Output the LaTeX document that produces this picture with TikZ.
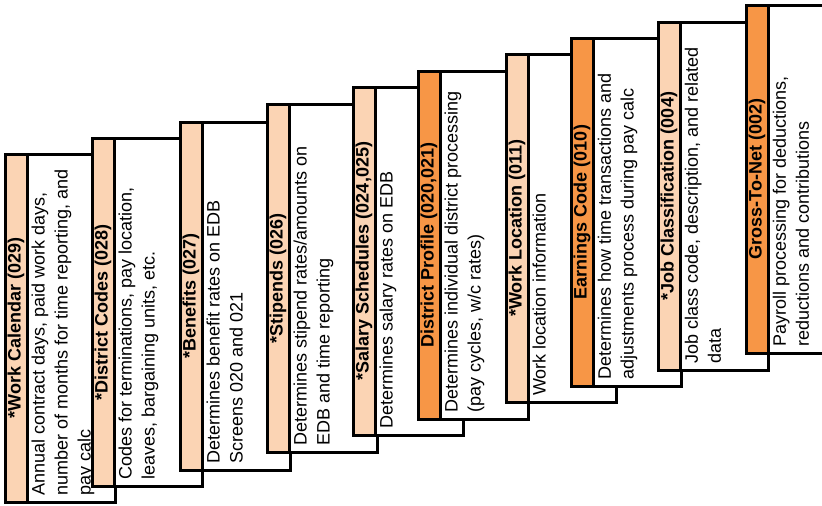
\documentclass[tikz,border=0pt]{standalone}
\usepackage{fontspec}
\setmainfont{Liberation Sans}
\definecolor{peach}{HTML}{FBD4B4}
\definecolor{tangerine}{HTML}{F79646}
\tikzset{
  card/.style={draw, line width=3pt, fill=white, anchor=north west,
    minimum width=110pt, minimum height=348pt, inner sep=0pt, outer sep=0pt},
  tab/.style={draw, line width=3pt, fill=peach, rotate=90, anchor=north east,
    minimum width=348pt, minimum height=22pt, inner sep=0pt, outer sep=0pt,
    font=\fontsize{18}{22}\selectfont\bfseries},
  hot/.style={tab, fill=tangerine},
  blurb/.style={rotate=90, anchor=north west, align=left, inner sep=0pt,
    font=\fontsize{18}{23}\selectfont}
}
\begin{document}
\begin{tikzpicture}[x=1pt, y=-1pt]
  \useasboundingbox (0,0) rectangle (822,506);
  \clip (0,0) rectangle (822,506);

  % 029
  \node[card] (wc) at (5,154) {};
  \node[tab] (wctab) at (5,154) {*Work Calendar (029)};
  \node[blurb] (wctext) at ([shift={(4.5,-6)}]wctab.south west)
    {Annual contract days, paid work days,\\number of months for time reporting, and\\pay calc};

  % 028
  \node[card] (dc) at (92,138) {};
  \node[tab] (dctab) at (92,138) {*District Codes (028)};
  \node[blurb] (dctext) at ([shift={(4.5,-6)}]dctab.south west)
    {Codes for terminations, pay location,\\leaves, bargaining units, etc.};

  % 027
  \node[card] (bn) at (180,122) {};
  \node[tab] (bntab) at (180,122) {*Benefits (027)};
  \node[blurb] (bntext) at ([shift={(4.5,-6)}]bntab.south west)
    {Determines benefit rates on EDB\\Screens 020 and 021};

  % 026
  \node[card] (st) at (267,104) {};
  \node[tab] (sttab) at (267,104) {*Stipends (026)};
  \node[blurb] (sttext) at ([shift={(4.5,-6)}]sttab.south west)
    {Determines stipend rates/amounts on\\EDB and time reporting};

  % 024,025
  \node[card] (ss) at (353,87) {};
  \node[tab] (sstab) at (353,87) {*Salary Schedules (024,025)};
  \node[blurb] (sstext) at ([shift={(4.5,-6)}]sstab.south west)
    {Determines salary rates on EDB};

  % 020,021
  \node[card] (dp) at (418,71) {};
  \node[hot] (dptab) at (418,71) {District Profile (020,021)};
  \node[blurb] (dptext) at ([shift={(4.5,-6)}]dptab.south west)
    {Determines individual district processing\\(pay cycles, w/c rates)};

  % 011
  \node[card] (wl) at (506,54) {};
  \node[tab] (wltab) at (506,54) {*Work Location (011)};
  \node[blurb] (wltext) at ([shift={(4.5,-6)}]wltab.south west)
    {Work location information};

  % 010
  \node[card] (ec) at (571,38) {};
  \node[hot] (ectab) at (571,38) {Earnings Code (010)};
  \node[blurb] (ectext) at ([shift={(4.5,-6)}]ectab.south west)
    {Determines how time transactions and\\adjustments process during pay calc};

  % 004
  \node[card] (jc) at (658,22) {};
  \node[tab] (jctab) at (658,22) {*Job Classification (004)};
  \node[blurb] (jctext) at ([shift={(4.5,-6)}]jctab.south west)
    {Job class code, description, and related\\data};

  % 002
  \node[card] (gn) at (746,5) {};
  \node[hot] (gntab) at (746,5) {Gross-To-Net (002)};
  \node[blurb] (gntext) at ([shift={(4.5,-6)}]gntab.south west)
    {Payroll processing for deductions,\\reductions and contributions};
\end{tikzpicture}
\end{document}
